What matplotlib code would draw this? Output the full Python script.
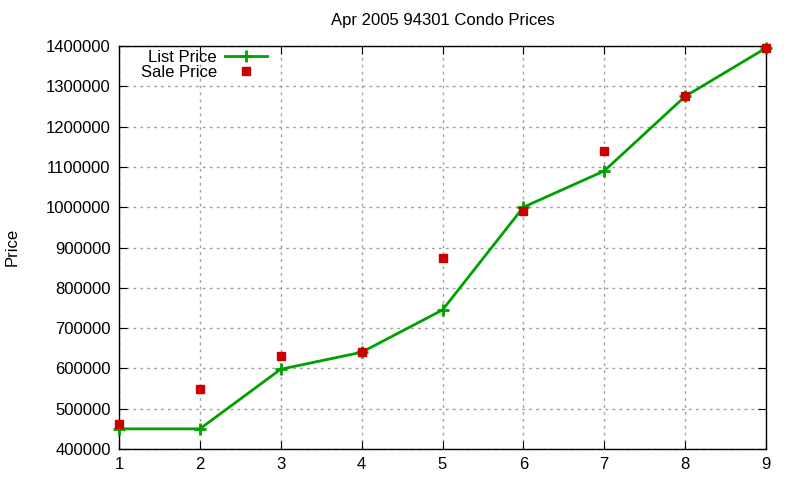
import numpy as np
import matplotlib
matplotlib.use('Agg')
import matplotlib.pyplot as plt

plt.rcParams['font.family'] = ['Liberation Sans', 'DejaVu Sans']

x = [1, 2, 3, 4, 5, 6, 7, 8, 9]
list_price = [450000, 450000, 598000, 640000, 745000, 1000000, 1090000, 1275000, 1395000]
sale_price = [462000, 550000, 630000, 640000, 875000, 990000, 1140000, 1275000, 1395000]
yticks = np.arange(400000, 1400001, 100000)

fig = plt.figure(figsize=(8, 4.8), dpi=100)
ax = fig.add_axes([119/800, 1 - 449/480, (766 - 119)/800, (449 - 46)/480])

ax.plot(x, list_price, '-', color='#00a000', lw=2, marker='+', ms=8, mew=2,
        label='List Price', clip_on=False, zorder=3)
ax.plot(x, sale_price, 's', color='#cc0000', ms=6, label='Sale Price',
        clip_on=False, zorder=4)

ax.set_xlim(1, 9)
ax.set_ylim(400000, 1400000)
ax.set_xticks(x)
ax.set_yticks(yticks)
ax.set_yticklabels([str(v) for v in yticks])
ax.tick_params(direction='in', top=True, right=True, labelsize=12, length=6, pad=6)
ax.grid(True, color='#a0a0a0', linestyle=(0, (2, 3)), lw=1)
for s in ax.spines.values():
    s.set_linewidth(1)

ax.set_title('Apr 2005 94301 Condo Prices', fontsize=12, pad=15)
fig.text(12/800, 1 - 247/480, 'Price', rotation=90, fontsize=12, va='center', ha='center')

ax.legend(loc='upper left', bbox_to_anchor=(0.018, 1.015), frameon=False, fontsize=12,
          markerfirst=False, handlelength=2.5, handletextpad=0.5,
          labelspacing=0.0, borderaxespad=0.2)

fig.savefig('out.png', dpi=100)
